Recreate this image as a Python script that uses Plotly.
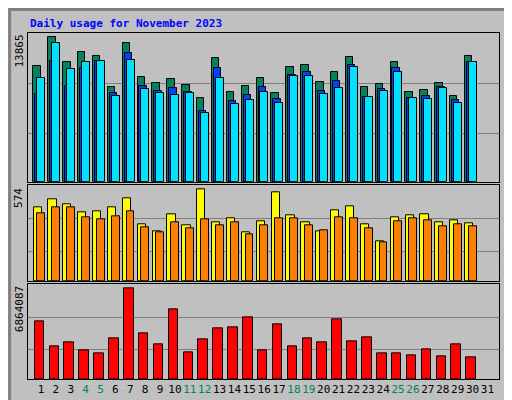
import plotly.graph_objects as go
from plotly.subplots import make_subplots

days = list(range(1, 32))
weekend = [4, 5, 11, 12, 18, 19, 25, 26]

hits = [11101, 13865, 11479, 12422, 12045, 9121, 13271, 10064, 9498, 9875,
        9309, 8083, 11856, 8649, 9215, 9970, 8555, 11007, 11196, 9592,
        10536, 11950, 9121, 9404, 11479, 8649, 8838, 9498, 8272, 12045, None]
files = [8423, 11573, 9215, 10941, 11630, 8555, 12328, 9215, 8744, 9026,
         8649, 6763, 10913, 7706, 8366, 9121, 7923, 10253, 10536, 8744,
         9687, 11196, 8178, 8932, 10913, 8083, 8272, 9121, 7800, 11479, None]
pages = [9970, 13271, 10819, 11479, 11573, 8272, 11667, 8932, 8555, 8366,
         8555, 6574, 9970, 7423, 7800, 8649, 7517, 10158, 10158, 8461,
         9026, 11007, 8178, 8744, 10536, 8083, 7989, 9026, 7517, 11479, None]
visits = [460, 510, 479, 429, 435, 460, 516, 354, 311, 416,
          348, 574, 367, 392, 305, 373, 553, 410, 367, 311,
          441, 466, 354, 249, 398, 410, 416, 367, 379, 361, None]
sites = [423, 460, 460, 398, 385, 404, 435, 336, 305, 367,
         329, 385, 348, 367, 292, 348, 392, 392, 348, 317,
         398, 392, 329, 242, 373, 392, 379, 342, 354, 342, None]
kbytes = [4368000, 2496000, 2795500, 2196500, 1971800, 3095000, 6864087, 3469400, 2645800, 5266600,
          2046700, 3020200, 3843800, 3918700, 4667500, 2196500, 4143400, 2496000, 3095000, 2795500,
          4517800, 2870400, 3169900, 1971800, 1971800, 1822100, 2271400, 1747200, 2645800, 1672300, None]

GREEN, BLUE, CYAN = "#00805C", "#0040FF", "#00E0FF"
YELLOW, ORANGE, RED = "#FFFF00", "#FF8000", "#FF0000"
BG = "#C0C0C0"
MONO = "DejaVu Sans Mono"

fig = make_subplots(rows=3, cols=1, shared_xaxes=True, vertical_spacing=0.01,
                    row_heights=[151, 97, 96])

def bars(vals, color, off, w, row):
    fig.add_trace(go.Bar(x=days, y=vals, marker_color=color, offset=off, width=w,
                         marker_line=dict(color="black", width=1)), row=row, col=1)

bars(hits, GREEN, -0.51, 0.5, 1)
bars(files, BLUE, -0.38, 0.5, 1)
bars(pages, CYAN, -0.25, 0.54, 1)
bars(visits, YELLOW, -0.5, 0.55, 2)
bars(sites, ORANGE, -0.25, 0.53, 2)
bars(kbytes, RED, -0.42, 0.64, 3)

ticktext = [f'<span style="color:#008060">{d}</span>' if d in weekend else str(d) for d in days]

fig.update_xaxes(range=[0.13, 31.78], showgrid=False, zeroline=False,
                 showline=True, linecolor="black", mirror=True, ticks="",
                 tickvals=days, ticktext=ticktext, showticklabels=False, tickangle=0)
fig.update_xaxes(showticklabels=True, tickfont=dict(family=MONO, size=11, color="black"), row=3, col=1)

ranges = [[0, 14271], [0, 599], [0, 7163000]]
grids = [[4630, 9450], [185, 393], [2200000, 4670000]]
for i in range(3):
    fig.update_yaxes(range=ranges[i], tickvals=grids[i], showticklabels=False,
                     gridcolor="#808080", gridwidth=1, zeroline=False, ticks="",
                     showline=True, linecolor="black", mirror=True, row=i + 1, col=1)

tops = [1.0, 0.558, 0.274]
maxes = ["13865", "574", "6864087"]
for t, m in zip(tops, maxes):
    fig.add_annotation(x=0, y=t, xref="paper", yref="paper", text=m, textangle=-90,
                       showarrow=False, xanchor="center", yanchor="top", xshift=-9,
                       font=dict(family=MONO, size=11, color="black"))

sides = [
    (0.78, f'<span style="color:{CYAN}">Pages</span> / <span style="color:{BLUE}">Files</span> / <span style="color:{GREEN}">Hits</span>'),
    (0.42, f'<span style="color:{ORANGE}">Sites</span> / <span style="color:{YELLOW}">Visits</span>'),
    (0.0, f'<span style="color:{RED}">KBytes</span>'),
]
for y, txt in sides:
    fig.add_annotation(x=1, y=y, xref="paper", yref="paper", text=txt, textangle=-90,
                       showarrow=False, xanchor="center", xshift=10,
                       yanchor="bottom" if y == 0.0 else "middle",
                       font=dict(family=MONO, size=10, color="black"))

fig.add_annotation(x=0, y=1, xref="paper", yref="paper", text="<b>Daily usage for November 2023</b>",
                   showarrow=False, xanchor="left", yanchor="bottom", yshift=1,
                   font=dict(family=MONO, size=11, color="#0000FF"))

# outer bevelled frame
fig.add_shape(type="rect", xref="paper", yref="paper", x0=-0.039, x1=1.041, y0=-0.065, y1=1.068,
              line=dict(color="#808080", width=3), layer="below")

fig.update_layout(width=512, height=400, margin=dict(l=20, r=21, t=25, b=24),
                  paper_bgcolor=BG, plot_bgcolor=BG, showlegend=False,
                  barmode="overlay", bargap=0)

fig.write_html("out.html")
